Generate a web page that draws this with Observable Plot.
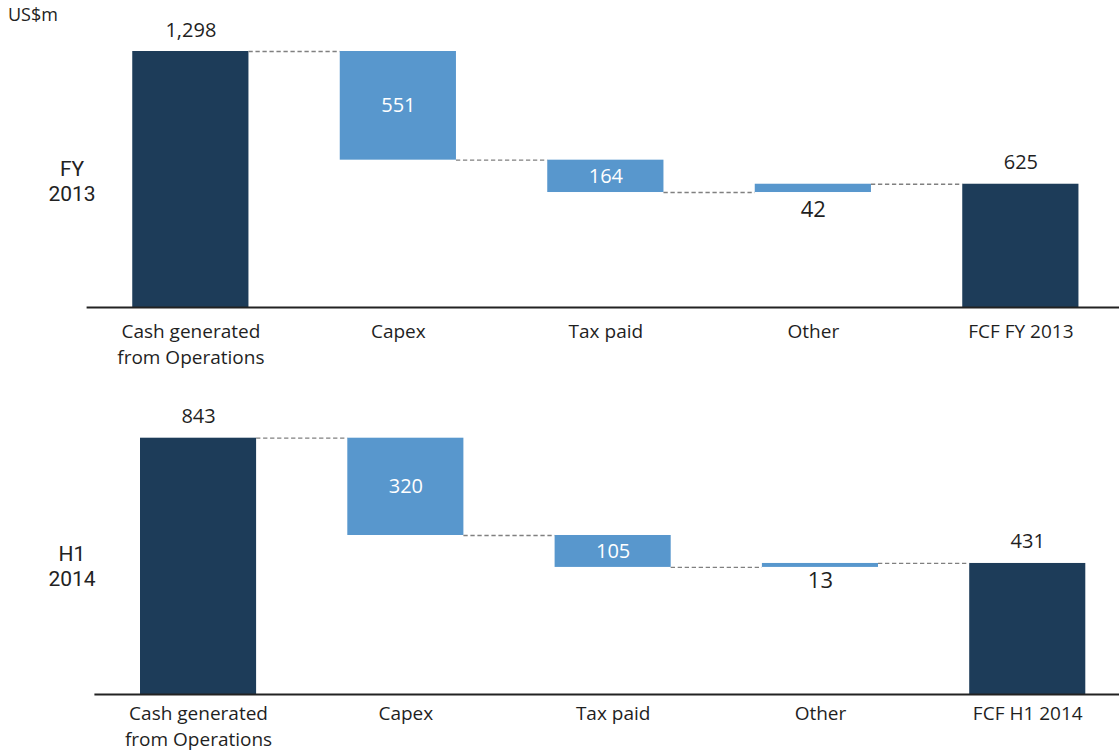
<!DOCTYPE html>
<html><head><meta charset="utf-8">
<script src="https://cdn.jsdelivr.net/npm/d3@7"></script>
<script src="https://cdn.jsdelivr.net/npm/@observablehq/plot@0.6"></script>
<style>
body{margin:0;background:#fff;font-family:"Open Sans",sans-serif;color:#222;}
#wrap{position:relative;width:1119px;height:751px;overflow:hidden;}
.note{position:absolute;text-align:center;color:#222;}
.pl{font-family:Roboto,sans-serif;font-size:21px;line-height:25px;left:41px;width:62px;}
svg{overflow:visible}
</style></head><body>
<div id="wrap">
 <div class="note" style="left:8px;top:4px;font-size:18px;line-height:20px;text-align:left;">US$m</div>
 <div class="note pl" style="top:157px;">FY<br>2013</div>
 <div class="note pl" style="top:542px;">H1<br>2014</div>
 <div id="top" style="position:absolute;left:0;top:0"></div>
 <div id="bottom" style="position:absolute;left:0;top:375px"></div>
</div>
<script>
const categoriesFY2013 = ["Cash generated\nfrom Operations", "Capex", "Tax paid", "Other", "FCF FY 2013"];
const valuesFY2013 = [1298, -551, -164, 42, 625];
const categoriesH12014 = ["Cash generated\nfrom Operations", "Capex", "Tax paid", "Other", "FCF H1 2014"];
const valuesH12014 = [843, -320, -105, 13, 431];
const stepKinds = ["total", "change", "change", "change", "total"];

const DARK = "#1d3c59", LIGHT = "#5897cd", INK = "#1f1f1f";

function waterfall(cats, vals) {
  let run = 0;
  return cats.map((c, i) => {
    const kind = stepKinds[i];
    const start = kind === "total" ? 0 : run;
    const end = kind === "total" ? vals[i] : run + vals[i];
    run = end;
    return {cat: c, kind, value: vals[i], start, end, lo: Math.min(start, end), hi: Math.max(start, end)};
  });
}

function panel(cats, vals, cfg) {
  const rows = waterfall(cats, vals);
  const maxV = d3.max(rows, d => d.hi);
  const n = cats.length, pi = 0.44, po = 0.22;
  const step = (cfg.r1 - cfg.r0) / (n - pi + 2 * po);
  const bw = step * (1 - pi);
  const links = rows.slice(0, -1).map((r, i) => ({from: r.cat, to: rows[i + 1].cat, level: r.end}));
  const totals = rows.filter(r => r.kind === "total");
  const big = rows.filter(r => r.kind !== "total" && (r.hi - r.lo) / maxV >= 0.06);
  const small = rows.filter(r => r.kind !== "total" && (r.hi - r.lo) / maxV < 0.06);
  const fmt = d => d3.format(",")(Math.abs(d.value));
  return Plot.plot({
    width: 1119, height: cfg.height,
    marginLeft: cfg.r0, marginRight: 0, marginTop: cfg.mt, marginBottom: cfg.mb,
    style: {fontFamily: "'Open Sans', sans-serif", overflow: "visible", background: "transparent"},
    x: {domain: cats, range: [cfg.r0, cfg.r1], paddingInner: pi, paddingOuter: po, align: 0.5, round: false, axis: null},
    y: {domain: [0, maxV], axis: null},
    color: {domain: ["total", "change"], range: [DARK, LIGHT]},
    marks: [
      Plot.barY(rows, {x: "cat", y1: "start", y2: "end", fill: "kind", inset: 0}),
      Plot.ruleY(links, {y: "level", x1: "from", x2: "to", insetLeft: bw, insetRight: bw,
        stroke: "#808080", strokeWidth: 1.3, strokeDasharray: "4.3,2.7"}),
      Plot.ruleY([0], {stroke: "#222", strokeWidth: 2}),
      Plot.text(totals, {x: "cat", y: "hi", text: fmt, lineAnchor: "bottom", dy: -15, fontSize: 20, fill: INK}),
      Plot.text(big, {x: "cat", y: d => (d.start + d.end) / 2, text: fmt, lineAnchor: "middle", fontSize: 20, fill: "white"}),
      Plot.text(small, {x: "cat", y: "lo", text: fmt, lineAnchor: "top", dy: cfg.smallDy, fontSize: 22, fill: INK}),
      Plot.text(rows, {x: "cat", text: "cat", frameAnchor: "bottom", lineAnchor: "top", dy: cfg.labelDy,
        lineHeight: 1.37, fontSize: 19, fill: INK})
    ]
  });
}

document.getElementById("top").append(panel(categoriesFY2013, valuesFY2013,
  {height: 375, r0: 86.6, r1: 1124.1, mt: 51, mb: 68, smallDy: 8.5, labelDy: 12}));
document.getElementById("bottom").append(panel(categoriesH12014, valuesH12014,
  {height: 376, r0: 94.4, r1: 1130.9, mt: 62.7, mb: 57, smallDy: 5, labelDy: 7}));
</script>
</body></html>
